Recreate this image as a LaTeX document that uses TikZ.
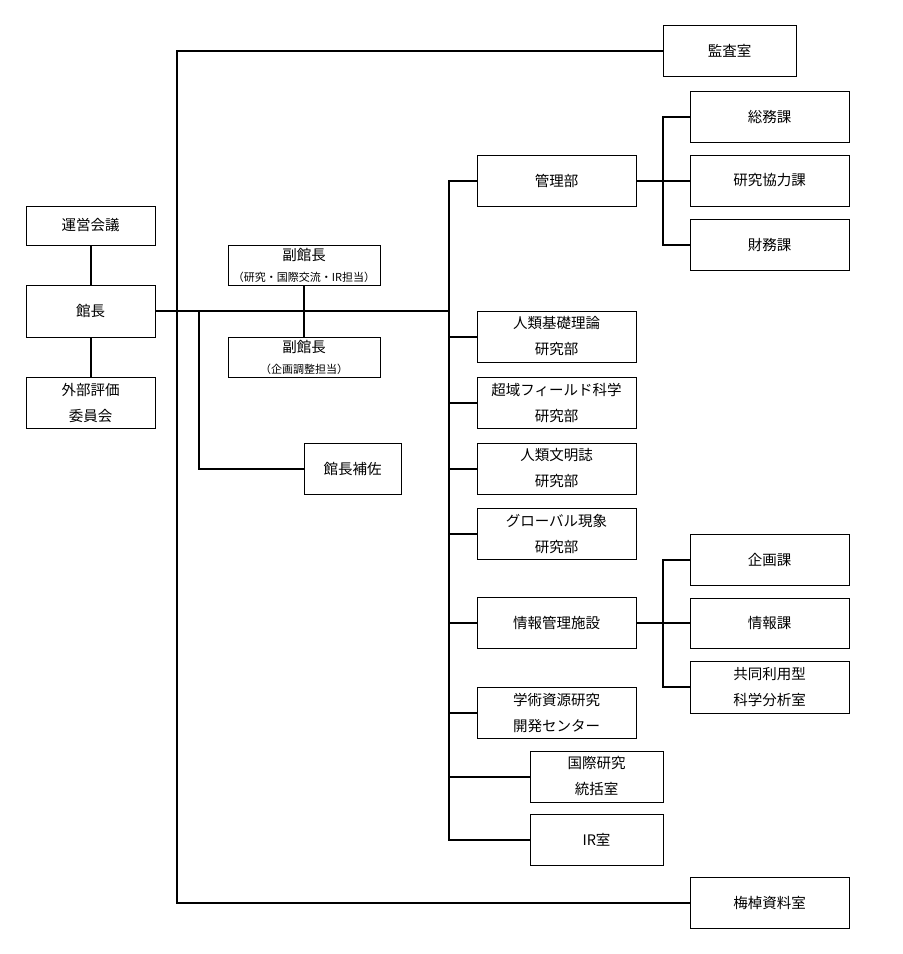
\documentclass[tikz,border=0pt]{standalone}
\usepackage{fontspec}
\newfontfamily\jpfont{Noto Sans CJK JP}
\begin{document}
\begin{tikzpicture}[x=1pt,y=-1pt,
  box/.style={draw=black, line width=1pt, fill=white, inner sep=0pt, align=center,
    font=\jpfont\fontsize{14.5}{26}\selectfont, minimum width=159pt, minimum height=51pt},
  conn/.style={line width=2pt, line cap=rect}]
\useasboundingbox (0,0) rectangle (903,954);
\fill[white] (0,0) rectangle (903,954);
% left column
\node[box, minimum width=129pt, minimum height=39pt] (unei) at (90.5,225.5) {運営会議};
\node[box, minimum width=129pt, minimum height=52pt] (kancho) at (90.5,311) {館長};
\node[box, minimum width=129pt] (gaibu) at (90.5,402.5) {外部評価\\委員会};
% vice directors
\node[box, minimum width=152pt, minimum height=40pt] (vp1) at (304,265) {副館長\\[-5pt]{\fontsize{11}{12}\selectfont （研究・国際交流・IR担当）}};
\node[box, minimum width=152pt, minimum height=40pt] (vp2) at (304,357) {副館長\\[-5pt]{\fontsize{11}{12}\selectfont （企画調整担当）}};
\node[box, minimum width=97pt] (hosa) at (352.5,468.5) {館長補佐};
% top / bottom
\node[box, minimum width=133pt] (kansa) at (729.5,50.5) {監査室};
\node[box] (umesao) at (769.5,902.5) {梅棹資料室};
% departments
\node[box] (kanri) at (556.5,180.5) {管理部};
\node[box] (soumu) at (769.5,116.5) {総務課};
\node[box] (kkyou) at (769.5,180.5) {研究協力課};
\node[box] (zaimu) at (769.5,244.5) {財務課};
\node[box] (kiso) at (556.5,336.5) {人類基礎理論\\研究部};
\node[box] (chouiki) at (556.5,402.5) {超域フィールド科学\\研究部};
\node[box] (bunmei) at (556.5,468.5) {人類文明誌\\研究部};
\node[box] (global) at (556.5,533.5) {グローバル現象\\研究部};
\node[box] (jouhou) at (556.5,622.5) {情報管理施設};
\node[box] (kikaku) at (769.5,559.5) {企画課};
\node[box, minimum height=50pt] (jhka) at (769.5,623) {情報課};
\node[box, minimum height=52pt] (kyoudou) at (769.5,687) {共同利用型\\科学分析室};
\node[box] (gakujutsu) at (556.5,712.5) {学術資源研究\\開発センター};
\node[box, minimum width=133pt] (kokusai) at (596.5,776.5) {国際研究\\統括室};
\node[box, minimum width=133pt] (ir) at (596.5,839.5) {IR室};
% spine coordinates
\coordinate (sp) at (449,311);
\coordinate (ls) at (177,311);
\coordinate (hs) at (199,311);
\coordinate (ks) at (663,180.5);
\coordinate (js) at (663,622.5);
% connectors
\draw[conn] (unei.south) -- (kancho.north);
\draw[conn] (kancho.south) -- (gaibu.north);
\draw[conn] (kancho.east) -- (sp);
\draw[conn] (vp1.south) -- (vp2.north);
\draw[conn] (hs) |- (hosa.west);
\draw[conn] (kansa.west) -- (kansa.west -| ls) -- (umesao.west -| ls) -- (umesao.west);
\draw[conn] (kanri.west) -- (kanri.west -| sp) -- (ir.west -| sp) -- (ir.west);
\foreach \n in {kiso,chouiki,bunmei,global,jouhou,gakujutsu,kokusai}
  \draw[conn] (\n.west) -- (\n.west -| sp);
\draw[conn] (kanri.east) -- (ks);
\draw[conn] (soumu.west) -- (soumu.west -| ks) -- (zaimu.west -| ks) -- (zaimu.west);
\draw[conn] (kkyou.west) -- (kkyou.west -| ks);
\draw[conn] (jouhou.east) -- (js);
\draw[conn] (kikaku.west) -- (kikaku.west -| js) -- (kyoudou.west -| js) -- (kyoudou.west);
\draw[conn] (jhka.west) -- (jhka.west -| js);
\end{tikzpicture}
\end{document}
